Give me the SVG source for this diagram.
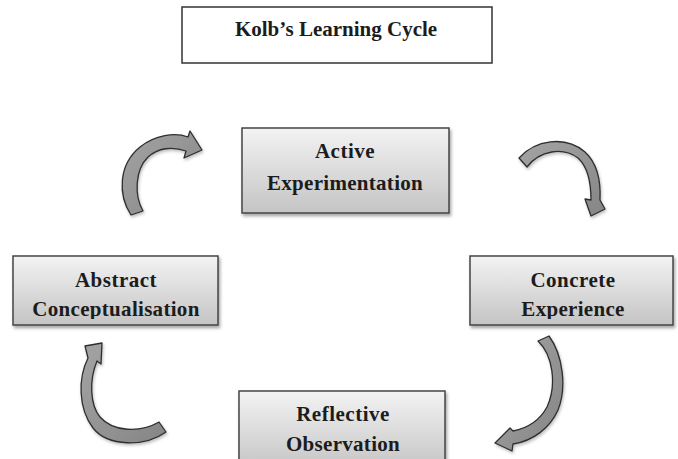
<svg xmlns="http://www.w3.org/2000/svg" width="678" height="459" viewBox="0 0 678 459">
<style>
.bx{fill:url(#g);stroke:#454545;stroke-width:1.5;filter:url(#sh)}
.t{font-family:"Liberation Serif","Times New Roman",serif;font-weight:bold;font-size:21px;fill:#1c1c1c;text-anchor:middle}
.ar{fill:url(#ag);stroke:#2e2e2e;stroke-width:1.3;stroke-linejoin:round;filter:url(#sh2)}
</style>
<defs>
<linearGradient id="g" x1="0" y1="0" x2="0" y2="1">
<stop offset="0" stop-color="#f3f3f3"/>
<stop offset="1" stop-color="#c4c4c4"/>
</linearGradient>
<linearGradient id="ag" x1="0" y1="0" x2="1" y2="1">
<stop offset="0" stop-color="#a4a4a4"/>
<stop offset="1" stop-color="#858585"/>
</linearGradient>
<filter id="sh" x="-10%" y="-10%" width="130%" height="140%">
<feDropShadow dx="1.5" dy="2.5" stdDeviation="1.8" flood-color="#000" flood-opacity="0.35"/>
</filter>
<filter id="sh2" x="-20%" y="-20%" width="150%" height="150%">
<feDropShadow dx="1" dy="2" stdDeviation="1.5" flood-color="#000" flood-opacity="0.25"/>
</filter>
<clipPath id="cA"><rect x="0" y="240" width="240" height="79"/></clipPath>
<clipPath id="cC"><rect x="450" y="240" width="228" height="79"/></clipPath>
</defs>
<rect width="678" height="459" fill="#fff"/>

<g id="title">
<rect x="182" y="7" width="310" height="56" fill="#fff" stroke="#333" stroke-width="1.5"/>
<text class="t" x="336" y="36">Kolb’s Learning Cycle</text>
</g>

<g id="active">
<rect class="bx" x="242" y="128" width="207" height="85"/>
<text class="t" x="345" y="158" letter-spacing="0.5">Active</text>
<text class="t" x="345" y="190" letter-spacing="0.3">Experimentation</text>
</g>

<g id="abstract">
<rect class="bx" x="13" y="256" width="205" height="69"/>
<g clip-path="url(#cA)">
<text class="t" x="116" y="287" letter-spacing="0.5">Abstract</text>
<text class="t" x="116" y="316" letter-spacing="0.3">Conceptualisation</text>
</g>
</g>

<g id="concrete">
<rect class="bx" x="470" y="256" width="203" height="69"/>
<g clip-path="url(#cC)">
<text class="t" x="573" y="287" letter-spacing="0.5">Concrete</text>
<text class="t" x="573" y="316" letter-spacing="0.3">Experience</text>
</g>
</g>

<g id="reflective">
<rect class="bx" x="239" y="391" width="206" height="80"/>
<text class="t" x="343" y="421" letter-spacing="0.5">Reflective</text>
<text class="t" x="343" y="451" letter-spacing="0.3">Observation</text>
</g>

<g id="connectors">
<path class="ar" d="M131,215 C118,195 118,165 140,147 C155,135 175,132 188,137 L190,131 L202,150 L184,158 L186,151 C172,146 158,148 148,157 C135,170 134,195 143,211 Z"/>
<path class="ar" d="M519,158 C535,140 565,135 585,152 C597,163 601,180 600,200 L605,209 L591,216 L585,199 L591,200 C591,183 588,167 578,158 C563,147 540,150 527,167 Z"/>
<path class="ar" d="M538,341 C553,355 557,385 547,407 C540,420 528,428 513,431 L510,428 L495,443 L512,451 L513,444 C533,441 550,428 558,410 C567,388 563,355 549,336 Z"/>
<path class="ar" d="M166,432 C145,447 108,447 93,428 C78,408 78,378 88,358 L85,346 L102,343 L101,364 L97,361 C89,380 90,405 100,417 C113,432 140,433 159,422 Z"/>
</g>
</svg>
